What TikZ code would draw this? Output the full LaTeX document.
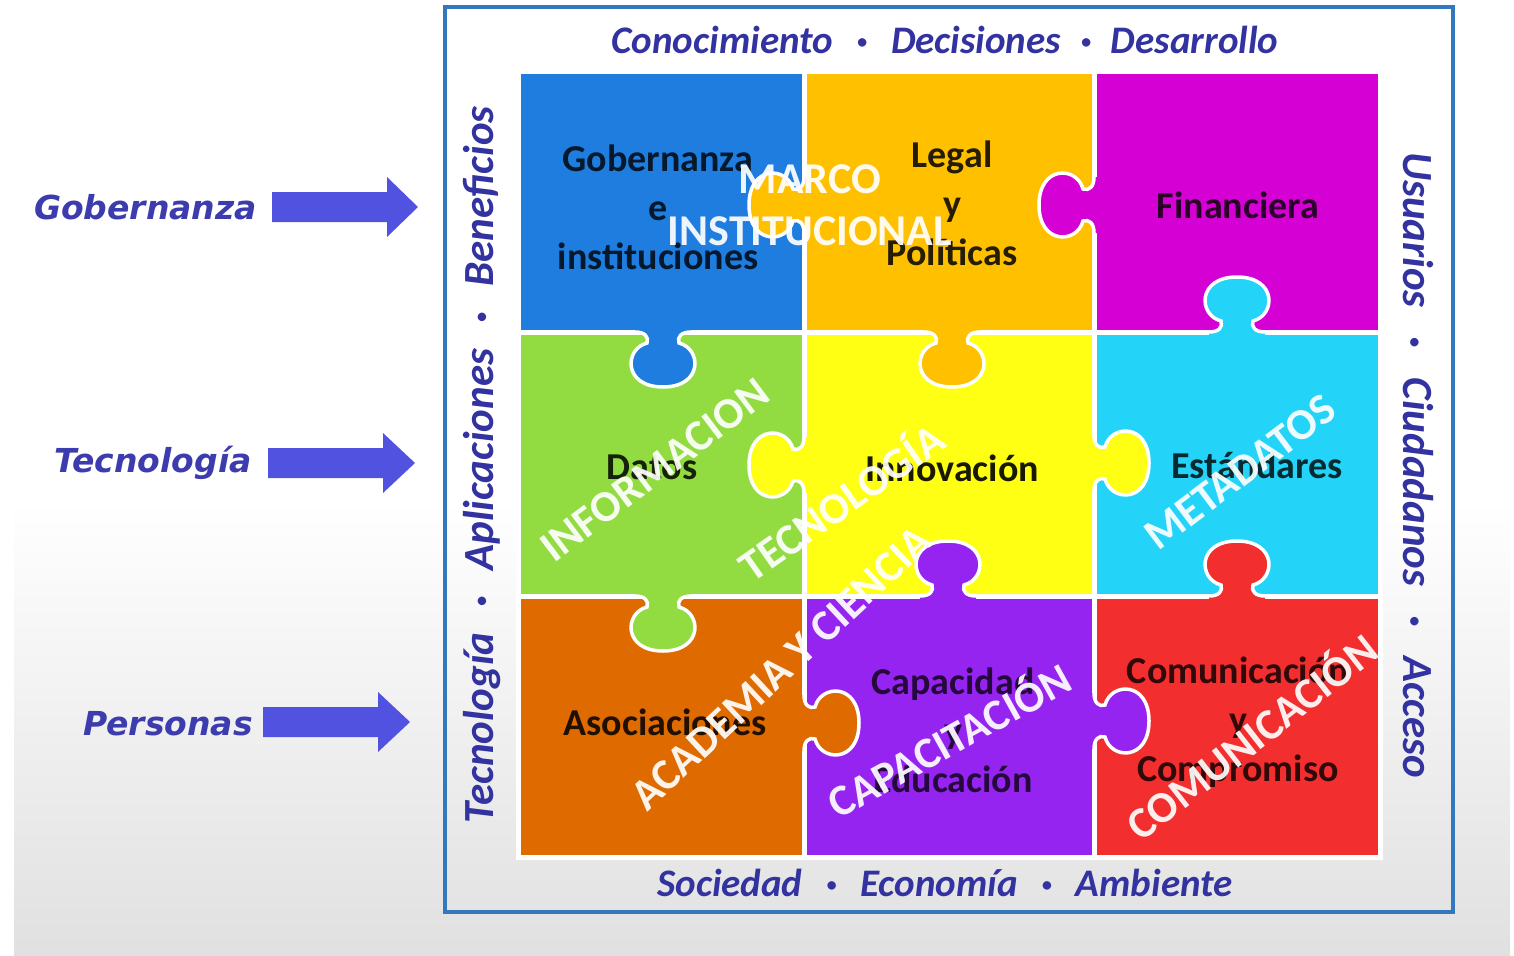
\documentclass[tikz,border=0pt]{standalone}
\usepackage{fontspec}
\setmainfont{Carlito}
\newfontfamily\dvs{DejaVu Sans}
\definecolor{pblue}{RGB}{30,125,222}
\definecolor{pgold}{RGB}{255,192,0}
\definecolor{pmag}{RGB}{212,0,212}
\definecolor{pgreen}{RGB}{146,220,66}
\definecolor{pyellow}{RGB}{255,255,20}
\definecolor{pcyan}{RGB}{36,212,248}
\definecolor{porange}{RGB}{222,106,0}
\definecolor{ppurple}{RGB}{150,36,240}
\definecolor{pred}{RGB}{242,46,46}
\definecolor{framec}{RGB}{50,120,190}
\definecolor{sidetext}{RGB}{50,50,160}
\definecolor{lefttext}{RGB}{60,60,175}
\definecolor{arrowc}{RGB}{82,82,225}
\newcommand{\sdot}[1]{\hspace{#1}\raisebox{0.28ex}{\fontsize{20}{20}\selectfont •}\hspace{#1}}
\newcommand{\puztab}[4]{%
  \begin{scope}[shift={(#1,#2)}, rotate=#3]
    \fill[#4] (-28,-7) -- (-28,0) .. controls (-18,0) and (-14,5) .. (-16,11)
      .. controls (-39,17) and (-40,55) .. (0,55)
      .. controls (40,55) and (39,17) .. (16,11)
      .. controls (14,5) and (18,0) .. (28,0) -- (28,-7) -- cycle;
    \draw[white, line width=3.5] (-32,0) -- (-28,0) .. controls (-18,0) and (-14,5) .. (-16,11)
      .. controls (-39,17) and (-40,55) .. (0,55)
      .. controls (40,55) and (39,17) .. (16,11)
      .. controls (14,5) and (18,0) .. (28,0) -- (32,0);
  \end{scope}}
\tikzset{
  cell/.style={draw=white, line width=5},
  lab/.style={font=\bfseries\fontsize{38}{49}\selectfont, align=center, inner sep=0},
  over/.style={font=\bfseries\fontsize{44}{52}\selectfont, text=white, inner sep=0, opacity=0.92, align=center},
  side/.style={font=\bfseries\itshape\fontsize{39}{42}\selectfont, text=sidetext, inner sep=0},
  vside/.style={font=\bfseries\itshape\fontsize{43}{46}\selectfont, text=sidetext, inner sep=0},
  leftlab/.style={font=\dvs\bfseries\itshape\fontsize{33}{36}\selectfont, text=lefttext, inner sep=0},
  blockarrow/.style={fill=arrowc}
}
\begin{document}
\begin{tikzpicture}[x=1pt, y=-1pt]
\useasboundingbox (0,0) rectangle (1514,955);
\fill[white] (0,0) rectangle (1514,955);
\shade[top color=white, bottom color=black!12] (14,500) rectangle (1510,955);
% frame
\draw[framec, line width=4] (445,7) rectangle (1453,912);
% cells
\fill[pblue, cell] (518,72) rectangle (804,332);
\fill[pgold, cell] (804,72) rectangle (1094,332);
\fill[pmag, cell] (1094,72) rectangle (1380,332);
\fill[pgreen, cell] (518,332) rectangle (804,596);
\fill[pyellow, cell] (804,332) rectangle (1094,596);
\fill[pcyan, cell] (1094,332) rectangle (1380,596);
\fill[porange, cell] (518,596) rectangle (804,857);
\fill[ppurple, cell] (804,596) rectangle (1094,857);
\fill[pred, cell] (1094,596) rectangle (1380,857);
% tabs
\puztab{663}{332}{0}{pblue}
\puztab{804}{205}{-90}{pgold}
\puztab{952}{332}{0}{pgold}
\puztab{1094}{205}{-90}{pmag}
\puztab{1237}{332}{180}{pcyan}
\puztab{804}{465}{-90}{pyellow}
\puztab{1094}{463}{90}{pyellow}
\puztab{663}{596}{0}{pgreen}
\puztab{948}{596}{180}{ppurple}
\puztab{1237}{596}{180}{pred}
\puztab{804}{723}{90}{porange}
\puztab{1094}{721}{90}{ppurple}
% piece labels
\node[lab, text=black!80!pblue] (lgob) at (658,207) {Gobernanza\\e\\instituciones};
\node[lab, text=black!85!pgold] (llegal) at (952,203) {Legal\\y\\Políticas};
\node[lab, text=black!80!pmag] (lfin) at (1238,205) {Financiera};
\node[lab, text=black!85!pgreen] (ldat) at (652,467) {Datos};
\node[lab, text=black!90!pyellow] (linn) at (952,468) {Innovación};
\node[lab, text=black!80!pcyan] (lest) at (1257,465) {Estándares};
\node[lab, text=black!85!porange] (laso) at (665,722) {Asociaciones};
\node[lab, text=black!75!ppurple] (lcap) at (953,730) {Capacidad\\y\\Educación};
\node[lab, text=black!80!pred] (lcom) at (1238,722) {Comunicación\\y\\Compromiso};
% overlay texts
\node[over] (omarco) at (810,205) {MARCO\\INSTITUCIONAL};
\node[over, rotate=37] (oinf) at (655,470) {INFORMACION};
\node[over, rotate=35] (otec) at (840,500) {TECNOLOGÍA};
\node[over, rotate=43] (oaca) at (781,668) {ACADEMIA Y CIENCIA};
\node[over, rotate=29] (ocap) at (948,738) {CAPACITACIÓN};
\node[over, rotate=38] (ocom) at (1250,735) {COMUNICACIÓN};
\node[over, rotate=37] (omet) at (1240,472) {METADATOS};
% side texts
\node[side] (top) at (945,40) {Conocimiento\sdot{24pt}Decisiones\sdot{20pt}Desarrollo};
\node[side] (bot) at (945,883) {Sociedad\sdot{24pt}Economía\sdot{24pt}Ambiente};
\node[vside, rotate=90] (lside) at (482,465) {Tecnología\sdot{26pt}Aplicaciones\sdot{26pt}Beneficios};
\node[vside, rotate=-90] (rside) at (1418,465) {Usuarios\sdot{30pt}Ciudadanos\sdot{30pt}Acceso};
% left labels and arrows
\node[leftlab, anchor=east] (tgob) at (257,207) {Gobernanza};
\node[leftlab, anchor=east] (ttec) at (252,463) {Tecnología};
\node[leftlab, anchor=east] (tper) at (253,724) {Personas};
\fill[blockarrow] (272,192) -- (387,192) -- (387,177) -- (418,207) -- (387,237) -- (387,222) -- (272,222) -- cycle;
\fill[blockarrow] (268,448) -- (383,448) -- (383,433) -- (415,463) -- (383,493) -- (383,478) -- (268,478) -- cycle;
\fill[blockarrow] (263,707) -- (378,707) -- (378,692) -- (410,722) -- (378,752) -- (378,737) -- (263,737) -- cycle;
\end{tikzpicture}
\end{document}
